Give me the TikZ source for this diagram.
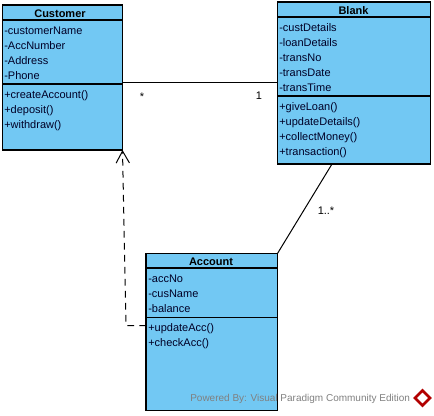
\documentclass[tikz,border=0pt]{standalone}
\usepackage{fontspec}
\setmainfont{Liberation Sans}
\usetikzlibrary{arrows.meta,positioning,shapes.geometric}
\definecolor{classblue}{HTML}{72C8F3}

\begin{document}
\begin{tikzpicture}[
  x=0.75pt, y=-0.75pt,
  font=\fontsize{8.25}{11.25}\selectfont,
  classbox/.style={draw, line width=0.85pt, fill=classblue, anchor=north west, inner sep=0pt, outer sep=0pt},
  classname/.style={font=\fontsize{8.25}{11.25}\selectfont\bfseries, inner sep=0pt},
  members/.style={align=left, anchor=north west, inner sep=0pt, text=black!85!blue},
  sep/.style={line width=0.85pt},
  assoc/.style={line width=0.75pt},
  mult/.style={inner sep=0pt},
]
\useasboundingbox (0,0) rectangle (434,415);

% Customer class
\node[classbox, minimum width=90pt, minimum height=108.75pt] (customer) at (2.5,5) {};
\node[classname] (customerName) at (60,14) {Customer};
\node[members] (customerAttr) at (4,26.7) {-customerName\\-AccNumber\\-Address\\-Phone};
\node[members] (customerOps)  at (4,90.5) {+createAccount()\\+deposit()\\+withdraw()};
\coordinate (customerSep1) at (0,20);
\coordinate (customerSep2) at (0,84);
\draw[sep] (customer.west |- customerSep1) -- (customer.east |- customerSep1);
\draw[sep] (customer.west |- customerSep2) -- (customer.east |- customerSep2);

% Blank class
\node[classbox, minimum width=114.75pt, minimum height=121.5pt] (blank) at (277.5,2) {};
\node[classname] (blankName) at (353.5,11) {Blank};
\node[members] (blankAttr) at (279,23) {-custDetails\\-loanDetails\\-transNo\\-transDate\\-transTime};
\node[members] (blankOps)  at (279,102) {+giveLoan()\\+updateDetails()\\+collectMoney()\\+transaction()};
\coordinate (blankSep1) at (0,17);
\coordinate (blankSep2) at (0,96);
\draw[sep] (blank.west |- blankSep1) -- (blank.east |- blankSep1);
\draw[sep] (blank.west |- blankSep2) -- (blank.east |- blankSep2);

% Account class
\node[classbox, minimum width=98.6pt, minimum height=118pt] (account) at (146,253.5) {};
\node[classname] (accountName) at (211,262) {Account};
\node[members] (accountAttr) at (148,274.7) {-accNo\\-cusName\\-balance};
\node[members] (accountOps)  at (148,323) {+updateAcc()\\+checkAcc()};
\coordinate (accountSep1) at (0,268);
\coordinate (accountSep2) at (0,317.5);
\draw[sep] (account.west |- accountSep1) -- (account.east |- accountSep1);
\draw[sep] (account.west |- accountSep2) -- (account.east |- accountSep2);

% Associations
\coordinate (assocRow) at (200,82);
\coordinate (blankFoot) at (332,164);
\draw[assoc] (customer.east |- assocRow) -- (blank.west |- assocRow);
\draw[assoc] (blankFoot) -- (account.north east);
\node[mult] (multCustomer) at (142,97) {*};
\node[mult] (multBlank)    at (259,96) {1};
\node[mult] (multAccount)  at (326,211) {1..*};

% Dependency from Account up to Customer
\coordinate (depRow) at (200,325.5);
\coordinate (depBend) at (126,325.5);
\draw[assoc, dashed, dash pattern=on 5pt off 4pt, -{Straight Barb[width=10pt,length=9pt,line width=0.75pt]}]
  (account.west |- depRow) -- (depBend) -- (customer.south east);

% Watermark
\node[inner sep=0pt, anchor=west, text=black!50, font=\fontsize{7.5}{10}\selectfont] (powered) at (190,398.5) {Powered By: Visual Paradigm Community Edition};
\node[diamond, fill=white, draw=red!70!black, line width=2pt, minimum size=12pt, inner sep=0pt] (logo) at (422.5,398) {};

\end{tikzpicture}
\end{document}
